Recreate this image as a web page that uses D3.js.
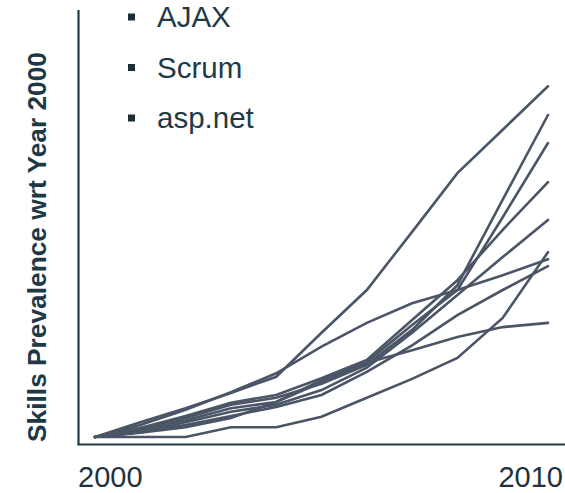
<!DOCTYPE html>
<html>
<head>
<meta charset="utf-8">
<script src="https://cdn.jsdelivr.net/npm/d3@7"></script>
<style>
  html, body { margin: 0; padding: 0; background: #ffffff; }
  svg { display: block; }
</style>
</head>
<body>
<svg id="chart" width="565" height="493"></svg>
<script>
// Years on the x axis and the two labelled ends
const years = [2000, 2001, 2002, 2003, 2004, 2005, 2006, 2007, 2008, 2009, 2010];
const xTickLabels = [2000, 2010];

// Skill prevalence, relative to the year 2000 (2000 = 1)
const skillA = [1, 3.1, 5.1, 7.3, 9.6, 15.9, 22.0, 30.3, 38.7, 44.9, 51.1];
const skillB = [1, 2.3, 3.7, 5.6, 6.6, 8.6, 11.3, 16.3, 22.7, 34.9, 47.0];
const skillC = [1, 2.0, 3.4, 5.1, 6.0, 9.1, 11.7, 17.0, 22.0, 32.4, 43.0];
const skillD = [1, 2.3, 4.0, 5.9, 7.0, 9.4, 12.0, 17.7, 23.4, 30.6, 37.4];
const skillE = [1, 1.7, 3.1, 4.6, 5.6, 7.7, 10.9, 15.9, 21.3, 26.7, 32.0];
const skillF = [1, 1.0, 1.0, 2.4, 2.4, 3.9, 6.6, 9.3, 12.3, 18.0, 27.4];
const skillG = [1, 2.7, 4.9, 7.4, 10.1, 13.9, 17.3, 20.1, 22.0, 24.1, 26.4];
const skillH = [1, 1.7, 2.7, 4.0, 5.3, 7.0, 10.3, 14.1, 18.4, 22.0, 25.4];
const skillI = [1, 1.6, 2.4, 3.7, 6.0, 8.8, 11.6, 13.4, 15.3, 16.7, 17.3];
const allSkills = [skillA, skillB, skillC, skillD, skillE, skillF, skillG, skillH, skillI];

// Bulleted list of skills at the top
const legendLabels = ["AJAX", "Scrum", "asp.net"];
const yTitle = "Skills Prevalence wrt Year 2000";

const svg = d3.select("#chart");

const x = d3.scaleLinear().domain([2000, 2010]).range([95, 548]);
const y = d3.scaleLinear().domain([0, 62]).range([444, 10]);

const axisColor = "#203a48";
const lineColor = "#4a5566";
const textColor = "#1c2e38";

// Skill lines
const line = d3.line()
  .x((d, i) => x(years[i]))
  .y(d => y(d));

svg.append("g")
  .selectAll("path")
  .data(allSkills)
  .join("path")
  .attr("d", line)
  .attr("fill", "none")
  .attr("stroke", lineColor)
  .attr("stroke-width", 2.6)
  .attr("stroke-linejoin", "miter")
  .attr("stroke-linecap", "round");

// Axes: a vertical line and a horizontal base line, no tick marks
svg.append("line")
  .attr("x1", 78.5).attr("x2", 78.5)
  .attr("y1", 10).attr("y2", 445)
  .attr("stroke", axisColor).attr("stroke-width", 2.2);

svg.append("line")
  .attr("x1", 77.5).attr("x2", 565)
  .attr("y1", 444.5).attr("y2", 444.5)
  .attr("stroke", axisColor).attr("stroke-width", 2.2);

// End-year labels under the base line
svg.append("g")
  .selectAll("text")
  .data(xTickLabels)
  .join("text")
  .attr("x", (d, i) => i === 0 ? x(d) - 17 : x(d) + 15)
  .attr("y", 487)
  .attr("text-anchor", (d, i) => i === 0 ? "start" : "end")
  .attr("font-family", "'Liberation Sans', Arial, sans-serif")
  .attr("font-size", 29)
  .attr("fill", "#22323b")
  .text(d => d);

// Y axis title
svg.append("text")
  .attr("transform", "translate(46,247) rotate(-90)")
  .attr("text-anchor", "middle")
  .attr("font-family", "'Liberation Sans', Arial, sans-serif")
  .attr("font-weight", "bold")
  .attr("font-size", 26.3)
  .attr("fill", "#203845")
  .text(yTitle);

// Legend list with square bullets
const legend = svg.append("g")
  .selectAll("g")
  .data(legendLabels)
  .join("g")
  .attr("transform", (d, i) => `translate(0, ${27 + i * 50.5})`);

legend.append("rect")
  .attr("x", 128).attr("y", -13.5)
  .attr("width", 7).attr("height", 7)
  .attr("fill", "#1c2e38");

legend.append("text")
  .attr("x", 157).attr("y", 0)
  .attr("font-family", "'Liberation Sans', Arial, sans-serif")
  .attr("font-size", 29.5)
  .attr("fill", "#1f3a46")
  .text(d => d);
</script>
</body>
</html>
